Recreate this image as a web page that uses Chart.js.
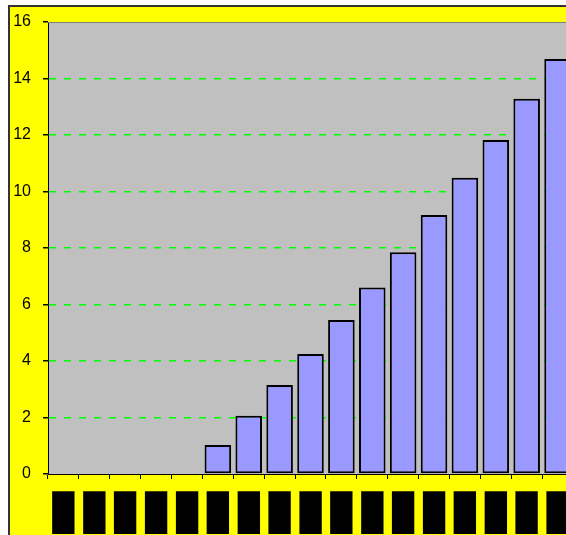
<!DOCTYPE html>
<html>
<head>
<meta charset="utf-8">
<script src="https://cdn.jsdelivr.net/npm/chart.js@4"></script>
<style>
  html, body { margin: 0; padding: 0; overflow: hidden; background: #fff; }
  #frame {
    position: absolute; left: 8px; top: 5px;
    width: 600px; height: 560px;
    border: 2px solid #333; background: #ffff00;
  }
  #chart { position: absolute; left: 0; top: 0; }
</style>
</head>
<body>
<div id="frame"><canvas id="chart" width="600" height="540"></canvas></div>
<script>
// categories (labels render as solid blocks in the original)
var categories = ['█','█','█','█','█','█','█','█','█','█','█','█','█','█','█','█','█'];
// bar values
var values = [0, 0, 0, 0, 0, 1.03, 2.06, 3.15, 4.25, 5.45, 6.6, 7.85, 9.17, 10.49, 11.82, 13.28, 14.69];
// y axis
var yMin = 0, yMax = 16, yStep = 2;

// gray plot background
var plotBg = {
  id: 'plotBg',
  beforeDraw: function(chart){
    var a = chart.chartArea, ctx = chart.ctx;
    ctx.save();
    ctx.fillStyle = '#c0c0c0';
    ctx.fillRect(a.left, a.top, a.right - a.left, a.bottom - a.top);
    ctx.restore();
  },
  // thin gray frame on top / right
  afterDraw: function(chart){
    var a = chart.chartArea, ctx = chart.ctx;
    ctx.save();
    ctx.strokeStyle = '#808080';
    ctx.lineWidth = 1;
    ctx.beginPath();
    ctx.moveTo(a.left, Math.round(a.top) + 0.5);
    ctx.lineTo(Math.round(a.right) - 0.5, Math.round(a.top) + 0.5);
    ctx.lineTo(Math.round(a.right) - 0.5, a.bottom);
    ctx.stroke();
    ctx.restore();
  }
};

new Chart(document.getElementById('chart').getContext('2d'), {
  type: 'bar',
  data: {
    labels: categories,
    datasets: [{
      data: values,
      backgroundColor: '#9999ff',
      borderColor: '#000000',
      borderWidth: 2,
      borderSkipped: false,
      barPercentage: 0.86,
      categoryPercentage: 1.0
    }]
  },
  options: {
    responsive: false,
    animation: false,
    events: [],
    layout: { padding: { top: 15, right: 37, bottom: 3, left: 0 } },
    plugins: { legend: { display: false }, tooltip: { enabled: false } },
    scales: {
      x: {
        afterFit: function(s){ s.height = 70; s.paddingLeft = 0; s.paddingRight = 0; },
        grid: { offset: true, drawOnChartArea: false, tickColor: '#000', tickLength: 5 },
        border: { display: true, color: '#000', width: 1 },
        ticks: {
          color: '#000', padding: 15, maxRotation: 0, autoSkip: false,
          font: { family: 'DejaVu Sans Mono', size: 36 }
        }
      },
      y: {
        min: yMin, max: yMax,
        afterFit: function(s){ s.width = 38; s.paddingTop = 0; s.paddingBottom = 0; },
        grid: {
          // no green line on the axis itself or along the top edge
          color: function(c){
            var v = c.tick ? c.tick.value : yMin;
            return (v === yMin || v === yMax) ? 'rgba(0,0,0,0)' : '#00ff00';
          },
          lineWidth: 1.5, tickColor: '#000', tickLength: 5
        },
        border: { display: true, color: '#000', width: 1, dash: [7, 8] },
        ticks: {
          stepSize: yStep, color: '#000', padding: 12,
          font: { family: 'Liberation Sans', size: 16 }
        }
      }
    }
  },
  plugins: [plotBg]
});
</script>
</body>
</html>
